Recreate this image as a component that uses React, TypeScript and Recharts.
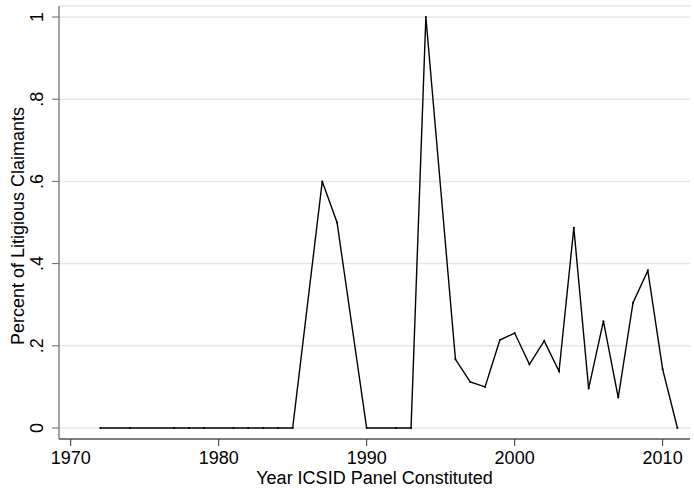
import React from "react";
import { LineChart, Line, XAxis, YAxis, CartesianGrid, Label } from "recharts";

// years with a recorded value (1973, 1975-76, 1980, 1986, 1989, 1991, 1995 absent)
const years = [
  1972, 1974, 1977, 1978, 1979, 1981, 1982, 1983, 1984, 1985, 1987, 1988, 1990,
  1992, 1993, 1994, 1996, 1997, 1998, 1999, 2000, 2001, 2002, 2003, 2004, 2005,
  2006, 2007, 2008, 2009, 2010, 2011,
];
const shareLitigious = [
  0, 0, 0, 0, 0, 0, 0, 0, 0, 0, 0.6, 0.5, 0, 0, 0, 1, 0.167, 0.112, 0.1, 0.214,
  0.231, 0.155, 0.212, 0.138, 0.487, 0.096, 0.26, 0.074, 0.305, 0.383, 0.143, 0,
];
const xTicks = [1970, 1980, 1990, 2000, 2010];
const yTicks = [0, 0.2, 0.4, 0.6, 0.8, 1];
const yTickLabels = ["0", ".2", ".4", ".6", ".8", "1"];

const data = years.map((year, i) => ({ year, value: shareLitigious[i] }));

const FONT = "'Liberation Sans', Arial, Helvetica, sans-serif";

const fmtY = (v: any) => {
  const n = Number(v);
  const idx = yTicks.findIndex((t) => Math.abs(t - n) < 1e-6);
  return idx >= 0 ? yTickLabels[idx] : String(v);
};

const YTick = (props: any) => {
  const { y, payload } = props;
  return (
    <text
      x={43.5}
      y={y}
      transform={`rotate(-90, 43.5, ${y})`}
      textAnchor="middle"
      fontSize={18}
      fontFamily={FONT}
      fill="#000"
    >
      {fmtY(payload.value)}
    </text>
  );
};

const XTick = (props: any) => {
  const { x, payload } = props;
  return (
    <text x={x} y={464} textAnchor="middle" fontSize={18} fontFamily={FONT} fill="#000">
      {payload.value}
    </text>
  );
};

export default function App() {
  return (
    <div style={{ position: "absolute", left: 0, top: 0, width: 694, height: 498, background: "#fff" }}>
      <LineChart width={694} height={498} data={data} margin={{ top: 6, right: 4, bottom: 0, left: 0 }}>
        <CartesianGrid horizontal vertical={false} stroke="#e6e6e6" strokeWidth={1.5} />
        <XAxis
          dataKey="year"
          type="number"
          domain={[1969.21, 2011.85]}
          allowDataOverflow
          ticks={xTicks}
          height={59}
          tickSize={7}
          tick={<XTick />}
          axisLine={{ stroke: "#111", strokeWidth: 1.2 }}
          tickLine={{ stroke: "#333", strokeWidth: 1 }}
        >
          <Label
            content={({ viewBox }: any) => (
              <text
                x={viewBox.x + viewBox.width / 2}
                y={484}
                textAnchor="middle"
                fontSize={18}
                fontFamily={FONT}
                fill="#000"
              >
                Year ICSID Panel Constituted
              </text>
            )}
          />
        </XAxis>
        <YAxis
          type="number"
          domain={[-0.02676, 1.02676]}
          allowDataOverflow
          ticks={yTicks}
          width={59}
          tickSize={7}
          tick={<YTick />}
          axisLine={{ stroke: "#666", strokeWidth: 1.2 }}
          tickLine={{ stroke: "#666", strokeWidth: 1 }}
        >
          <Label
            content={() => (
              <text
                x={23.5}
                y={226}
                transform="rotate(-90, 23.5, 226)"
                textAnchor="middle"
                fontSize={18}
                fontFamily={FONT}
                fill="#000"
              >
                Percent of Litigious Claimants
              </text>
            )}
          />
        </YAxis>
        <Line
          type="linear"
          dataKey="value"
          stroke="#000"
          strokeWidth={1.4}
          dot={{ r: 1, fill: "#000", stroke: "none" }}
          activeDot={false}
          isAnimationActive={false}
        />
      </LineChart>
    </div>
  );
}
